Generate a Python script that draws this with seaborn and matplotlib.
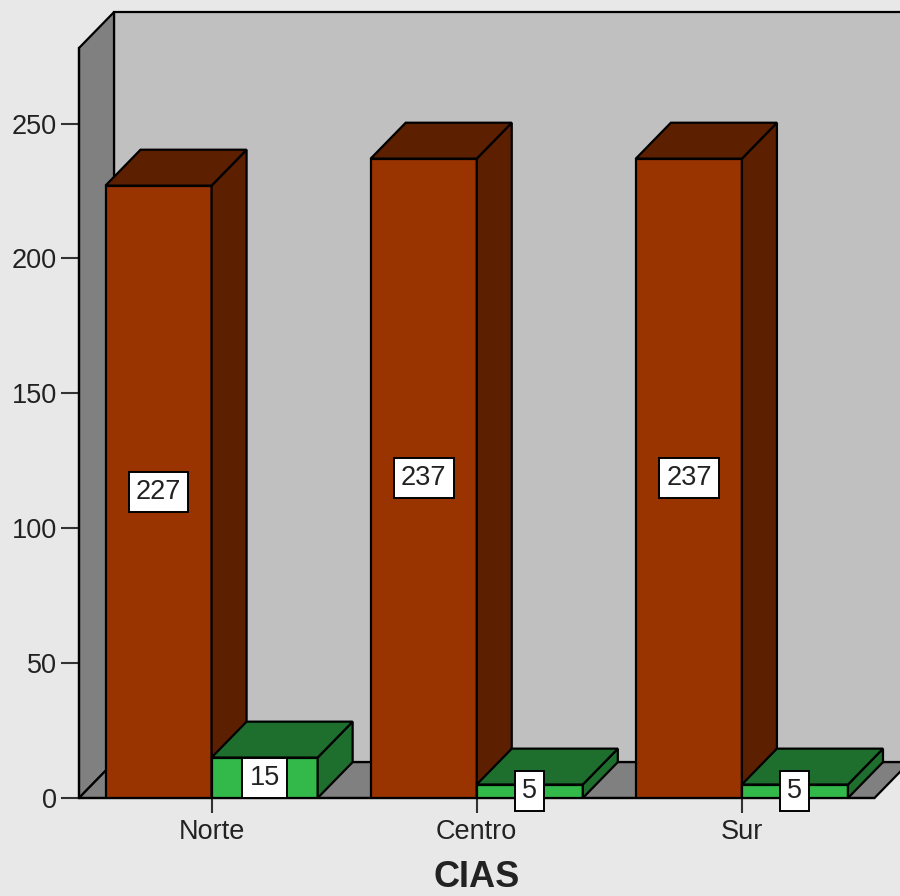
import matplotlib
matplotlib.use("Agg")
import matplotlib.pyplot as plt
from matplotlib.patches import Polygon, Rectangle
import pandas as pd
import seaborn as sns

# --- data -------------------------------------------------------------
regions = ["Norte", "Centro", "Sur"]
series_names = ["serie_1", "serie_2"]
serie_1 = [227, 237, 237]
serie_2 = [15, 5, 5]
y_ticks = [0, 50, 100, 150, 200, 250]
axis_title = "CIAS"

# --- style ------------------------------------------------------------
front_colors = {"serie_1": "#993300", "serie_2": "#33b94a"}
shade_colors = {"serie_1": "#5c1f00", "serie_2": "#1e6e2e"}
BG = "#e8e8e8"
WALL_BACK = "#c0c0c0"
WALL_SIDE = "#808080"
TEXT = "#222222"
LW = 1.6
FS = 19.5

# depth of the pseudo-3D box, in data units
DX = 0.132
DY = 13.3
Y_TOP = 278
X_LO, X_HI = -0.5, 2.5

sns.set_theme(style="ticks")
plt.rcParams["font.family"] = ["Liberation Sans", "DejaVu Sans"]

df = pd.DataFrame({
    "region": regions * 2,
    "serie": [series_names[0]] * 3 + [series_names[1]] * 3,
    "n": serie_1 + serie_2,
})

fig = plt.figure(figsize=(9, 8.96), dpi=100, facecolor=BG)
ax = fig.add_axes([79 / 900, 98 / 896, (874.5 - 79) / 900, (798 - 48) / 896])
ax.patch.set_visible(False)

sns.barplot(data=df, x="region", y="n", hue="serie", order=regions,
            hue_order=series_names, palette=front_colors, saturation=1,
            width=0.8, errorbar=None, edgecolor="black", linewidth=LW,
            legend=False, ax=ax)

ax.set_xlim(X_LO, X_HI)
ax.set_ylim(0, Y_TOP)

bars = sorted([p for p in ax.patches if isinstance(p, Rectangle)
               and p.get_height() > 0], key=lambda p: p.get_x())

# box walls and floor
def poly(pts, fc, z):
    p = Polygon(pts, closed=True, facecolor=fc, edgecolor="black",
                linewidth=LW, joinstyle="miter", clip_on=False, zorder=z)
    ax.add_patch(p)
    return p

poly([(X_LO + DX, DY), (X_LO + DX, Y_TOP + DY), (X_HI + DX, Y_TOP + DY),
      (X_HI + DX, DY)], WALL_BACK, 0.5)
poly([(X_LO, 0), (X_LO, Y_TOP), (X_LO + DX, Y_TOP + DY), (X_LO + DX, DY)],
     WALL_SIDE, 0.6)
poly([(X_LO, 0), (X_HI, 0), (X_HI + DX, DY), (X_LO + DX, DY)],
     WALL_SIDE, 0.6)

# give every bar a side face, a top face and a value label
for i, bar in enumerate(bars):
    x0, w, h = bar.get_x(), bar.get_width(), bar.get_height()
    face = matplotlib.colors.to_hex(bar.get_facecolor())
    key = [k for k, v in front_colors.items() if v == face][0]
    dark = shade_colors[key]
    z = 3 + i * 0.01
    bar.set_zorder(z)
    bar.set_joinstyle("miter")
    poly([(x0 + w, 0), (x0 + w, h), (x0 + w + DX, h + DY), (x0 + w + DX, DY)], dark, z)
    poly([(x0, h), (x0 + w, h), (x0 + w + DX, h + DY), (x0 + DX, h + DY)], dark, z)
    ax.text(x0 + w / 2, h / 2, f"{h:.0f}", ha="center", va="center",
            fontsize=FS, color=TEXT, zorder=10,
            bbox=dict(boxstyle="square,pad=0.26", facecolor="white",
                      edgecolor="black", linewidth=1.4))

# axes frame, ticks, labels
for side in ("top", "right"):
    ax.spines[side].set_visible(False)
for side in ("left", "bottom"):
    ax.spines[side].set_color("black")
    ax.spines[side].set_linewidth(LW)
    ax.spines[side].set_zorder(2)

ax.set_yticks(y_ticks)
ax.tick_params(axis="y", direction="out", length=13, width=1.5,
               color="#333333", labelsize=FS, labelcolor=TEXT, pad=3, left=True)
ax.tick_params(axis="x", direction="out", length=11, width=1.5,
               color="#333333", labelsize=FS, labelcolor=TEXT, pad=4, bottom=True)
ax.set_ylabel("")
ax.set_xlabel(axis_title, fontsize=26, fontweight="bold", color=TEXT, labelpad=11)

fig.savefig("out.png", dpi=100, facecolor=BG)
